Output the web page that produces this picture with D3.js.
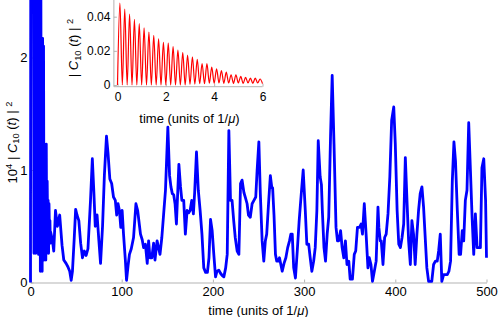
<!DOCTYPE html>
<html><head><meta charset="utf-8">
<script src="https://cdn.jsdelivr.net/npm/d3@7"></script>
<style>
html,body{margin:0;padding:0;background:#fff;}
svg{display:block;font-family:"Liberation Sans",Arial,Helvetica,sans-serif;}
</style></head><body>
<svg id="c" width="498" height="317"></svg>
<script>
// ---- tick labels ----
const mainTicksX = [0, 100, 200, 300, 400, 500];
const mainTicksY = [0, 1, 2];
const insetTicksX = [0, 2, 4, 6];
const insetTicksY = [0, 0.02, 0.04];

// ---- main series: 10^4 |C10(t)|^2, early fast oscillations (values >2.5 are off-scale) ----
const burstT = [0,0.3,3.2,3.8,4.3,4.8,5.3,5.8,6.3,6.8,
  7.3,7.8,8.3,8.8,9.3,9.8,10.3,10.8,11.3,11.8,
  12.3,12.8,13.3,13.8,14.3,14.8,15.3,15.8,16.3,16.8,
  17.3,17.8,18.3,18.8,19.3,19.8,20.3,20.8,21.3,21.8];
const burstV = [0,3,3,0.26,3,0.9,3,0.26,3,1.6,
  3,0.4,3,0.25,3,1.2,3,0.1,3,0.6,
  2.17,0.1,2.17,0.3,2.1,0.2,1.23,0.5,1.2,0.2,
  1.23,0.26,0.9,0.5,0.73,0.26,0.7,0.45,0.55,0.35];

// ---- main series, later times ----
const mainT = [22,24,25.5,27.4,29.5,32,34.6,36.5,39,41,
  43,44.6,46,48,49.5,51,53,55,57,59,
  61,63,65.8,67.8,69.5,71,73,75,76.8,79,
  81,83.3,85,87,89,91,93,94.5,96,97.5,
  99,100.5,102,104,105.3,107,108.5,110.5,113,115.6,
  117.5,120.6,122.5,124,126,128,129.5,131,133,135,
  136.5,138.8,142,144,146,148,150.6,152.5,154,155.5,
  157,158.5,160,162.7,164.5,166,168,169.8,171.7,173.5,
  175,176.8,178.6,180,182,184,186,188,190,192,
  194,195.7,197.4,199.2,201,202.9,204.5,206.5,208.5,210.5,
  212,214,215.7,217.5,219.3,221,222.8,224.5,226.6,228.5,
  230.3,232,234,235.8,237.5,239,241,243,245,247,
  248.5,250.4,252,254,255.8,257.5,259,261,263,264.5,
  265.5,267,268.6,270,271.5,273,276,278,280,282,
  284,285.5,287,288.6,290.5,292.5,294.6,297,299,301.3,
  303,305,306.7,308.5,310.5,312.2,314,315.5,317.6,319,
  320,321.8,323.5,325.3,327,329,330.8,332.8,335,336.6,
  338,340,341.7,343.5,345.3,347,349,350.5,353,355,
  356.6,358.5,360.7,362.5,364,366,368,370,371.5,373.3,
  375,377,379,381,382,383.5,384.6,386.5,388.3,390,
  392,394,396,398.3,400,402,403.8,405.6,407.4,409.2,
  411,412.8,414.6,416.5,418.2,420,421.8,423.7,425.5,427.3,
  429.2,431,434.6,436.5,440,442,444,446,447.5,449.3,
  451,453,457,458.8,460.6,462.5,464.3,466,468,470,
  471.6,473.4,475,476.8,478.6,480.5,482.4,484.2,486,487.8,
  489.7,491.5,493.3,495,497,499,500];
const mainV = [0.45,0.38,0.28,0.64,0.5,0.6,0.33,0.2,0.17,0.14,
  0.1,0.02,0.1,0.4,0.65,0.6,0.55,0.35,0.22,0.28,
  0.24,0.3,0.73,1.1,0.8,0.5,0.6,0.37,0.17,0.5,
  0.95,1.3,1.15,0.92,0.88,0.76,0.73,0.6,0.7,0.64,
  0.49,0.64,0.43,0.2,0.02,0.15,0.25,0.3,0.4,0.7,
  0.64,0.43,0.38,0.31,0.34,0.17,0.37,0.22,0.22,0.35,
  0.2,0.37,0.25,0.4,0.61,0.82,1.38,0.95,0.85,0.79,
  0.78,0.7,0.52,1.05,0.85,0.73,0.73,0.43,0.64,0.62,
  0.64,0.73,0.61,0.8,1.16,0.82,0.64,0.43,0.13,0.09,
  0.09,0.22,0.56,0.46,0.25,0.05,0.1,0.11,0.08,0.06,
  0.05,0.13,0.25,1.35,0.73,0.73,0.55,0.4,0.28,0.25,
  0.88,0.91,0.8,0.75,0.7,0.6,0.58,0.7,0.73,0.76,
  1.0,1.25,0.79,0.37,0.19,0.37,0.43,0.7,0.95,0.85,
  0.84,0.6,0.25,0.19,0.19,0.22,0.1,0.17,0.22,0.31,
  0.37,0.43,0.43,0.13,0.04,0.28,0.55,0.8,1.0,0.64,
  0.34,0.34,0.22,0.1,0.19,0.31,0.64,1.26,0.94,0.87,
  0.64,0.31,0.19,0.43,0.58,1.3,1.84,1.23,0.49,0.37,
  0.37,0.46,0.31,0.22,0.37,0.16,0.19,0.03,0.03,0.25,
  0.28,0.49,0.49,0.52,0.43,0.7,0.43,0.13,0.22,0.16,
  0.01,0.1,0.19,0.67,0.49,0.37,0.37,0.16,0.4,0.43,
  0.61,0.94,1.44,1.56,1.23,0.64,0.34,0.31,0.4,0.52,
  1.11,0.73,0.37,0.16,0.55,0.43,0.16,0.43,0.64,0.79,
  0.85,0.67,0.13,0.01,0.01,0.16,0.19,0.19,0.28,0.43,
  0.01,0.07,0.07,0.1,0.19,0.9,1.25,1.08,0.64,0.25,
  0.25,0.46,0.37,0.73,0.82,1.42,0.99,0.58,0.25,0.61,
  0.31,0.31,0.31,1.02,1.1,0.73,0.22];

// ---- inset series: |C10(t)|^2, samples every 0.1 time units from t=0 to 6 ----
const insetStep = 0.1;
const insetV = [0,0.048,0,0.0445,0,0.0415,0,0.0385,0,0.036,
  0,0.0335,0,0.031,0,0.029,0,0.027,0,0.025,
  0,0.0245,0,0.0225,0,0.0205,0,0.019,0,0.0175,
  0.0004,0.0165,0.0005,0.015,0.0008,0.0125,0.0008,0.0125,0.0011,0.0105,
  0.001,0.0095,0.0012,0.0085,0.001,0.0075,0.0012,0.006,0.001,0.006,
  0.0012,0.005,0.001,0.0045,0.0012,0.004,0.001,0.004,0.0012,0.0035,
  0.0008];

const svg = d3.select("#c");
const axisGrey = "#b3b3b3";

// ---------- main chart ----------
const x = d3.scaleLinear().domain([0, 500]).range([30.5, 486.5]);
const y = d3.scaleLinear().domain([0, 2.5]).range([282.5, 1.25]);

svg.append("defs").append("clipPath").attr("id", "clipMain")
  .append("rect").attr("x", 29).attr("y", 0).attr("width", 460).attr("height", 284);

const xAxis = svg.append("g").attr("transform", `translate(0,${y(0)})`)
  .call(d3.axisBottom(x).tickValues(mainTicksX).tickSizeInner(-3).tickSizeOuter(0).tickPadding(4).tickFormat(d3.format("d")));
const yAxis = svg.append("g").attr("transform", `translate(${x(0)},0)`)
  .call(d3.axisLeft(y).tickValues(mainTicksY).tickSizeInner(-3).tickSizeOuter(0).tickPadding(3).tickFormat(d3.format("d")));
[xAxis, yAxis].forEach(g => {
  g.select(".domain").attr("stroke", axisGrey);
  g.selectAll(".tick line").attr("stroke", axisGrey);
  g.selectAll(".tick text").attr("fill", "#000").style("font-size", "13px");
});

const series = burstT.map((t, i) => [t, burstV[i]])
  .concat(mainT.map((t, i) => [t, mainV[i]]));
svg.append("path").datum(series)
  .attr("clip-path", "url(#clipMain)")
  .attr("fill", "none").attr("stroke", "#0000ff").attr("stroke-width", 2.8)
  .attr("stroke-linejoin", "round")
  .attr("d", d3.line().x(d => x(d[0])).y(d => y(d[1])));

// axis titles
svg.append("text").attr("x", 258.5).attr("y", 314.5).attr("text-anchor", "middle")
  .style("font-size", "13px")
  .call(t => {
    t.append("tspan").text("time (units of 1/");
    t.append("tspan").attr("font-style", "italic").text("μ");
    t.append("tspan").text(")");
  });

function cLabel(sel, prefix) {
  if (prefix) {
    sel.append("tspan").text("10");
    sel.append("tspan").attr("font-size", "0.72em").attr("dy", "-0.5em").text("4");
    sel.append("tspan").attr("dy", "0.36em").text(" | ");
  } else {
    sel.append("tspan").text("| ");
  }
  sel.append("tspan").attr("font-style", "italic").text("C");
  sel.append("tspan").attr("font-size", "0.72em").attr("dy", "0.3em").text("10");
  sel.append("tspan").attr("dy", "-0.22em").text(" (");
  sel.append("tspan").attr("font-style", "italic").text("t");
  sel.append("tspan").text(") | ");
  sel.append("tspan").attr("font-size", "0.72em").attr("dy", "-0.5em").text("2");
}
svg.append("text").attr("transform", "translate(16.5,142.5) rotate(-90)")
  .attr("text-anchor", "middle").style("font-size", "13px")
  .call(s => cLabel(s, true));

// ---------- inset ----------
const xi = d3.scaleLinear().domain([0, 6]).range([117.5, 262.5]);
const yi = d3.scaleLinear().domain([0, 0.05]).range([85, -0.4]);
const xOrig = -0.15, yOrig = -0.001;

const xiAxis = svg.append("g").attr("transform", `translate(0,${yi(yOrig)})`)
  .call(d3.axisBottom(xi).tickValues(insetTicksX).tickSizeInner(-3).tickSizeOuter(0).tickPadding(6).tickFormat(d3.format("d")));
const yiAxis = svg.append("g").attr("transform", `translate(${xi(xOrig)},0)`)
  .call(d3.axisLeft(yi).tickValues(insetTicksY).tickSizeInner(-3).tickSizeOuter(0).tickPadding(3.5).tickFormat(d => d === 0 ? "0" : d3.format(".2f")(d)));
xiAxis.select(".domain").attr("d", `M${xi(xOrig)},0H${xi(6)}`);
yiAxis.select(".domain").attr("d", `M0,${yi(yOrig) - yi(yOrig) + 0}V${yi(0.05) - 0}`)
  .attr("transform", `translate(0,${yi(yOrig)}) translate(0,${-yi(yOrig)})`);
yiAxis.select(".domain").attr("d", `M0,${yi(yOrig)}V${yi(0.05)}`).attr("transform", null);
[xiAxis, yiAxis].forEach(g => {
  g.select(".domain").attr("stroke", axisGrey);
  g.selectAll(".tick line").attr("stroke", axisGrey);
  g.selectAll(".tick text").attr("fill", "#000").style("font-size", "12px");
});

svg.append("path").datum(insetV)
  .attr("fill", "none").attr("stroke", "#ff0000").attr("stroke-width", 1.2)
  .attr("d", d3.line().curve(d3.curveMonotoneX)
    .x((d, i) => xi(i * insetStep)).y(d => yi(d)));

svg.append("text").attr("x", 189.5).attr("y", 122.5).attr("text-anchor", "middle")
  .style("font-size", "13px")
  .call(t => {
    t.append("tspan").text("time (units of 1/");
    t.append("tspan").attr("font-style", "italic").text("μ");
    t.append("tspan").text(")");
  });
svg.append("text").attr("transform", "translate(78,48) rotate(-90)")
  .attr("text-anchor", "middle").style("font-size", "13px")
  .call(s => cLabel(s, false));
</script>
</body></html>
